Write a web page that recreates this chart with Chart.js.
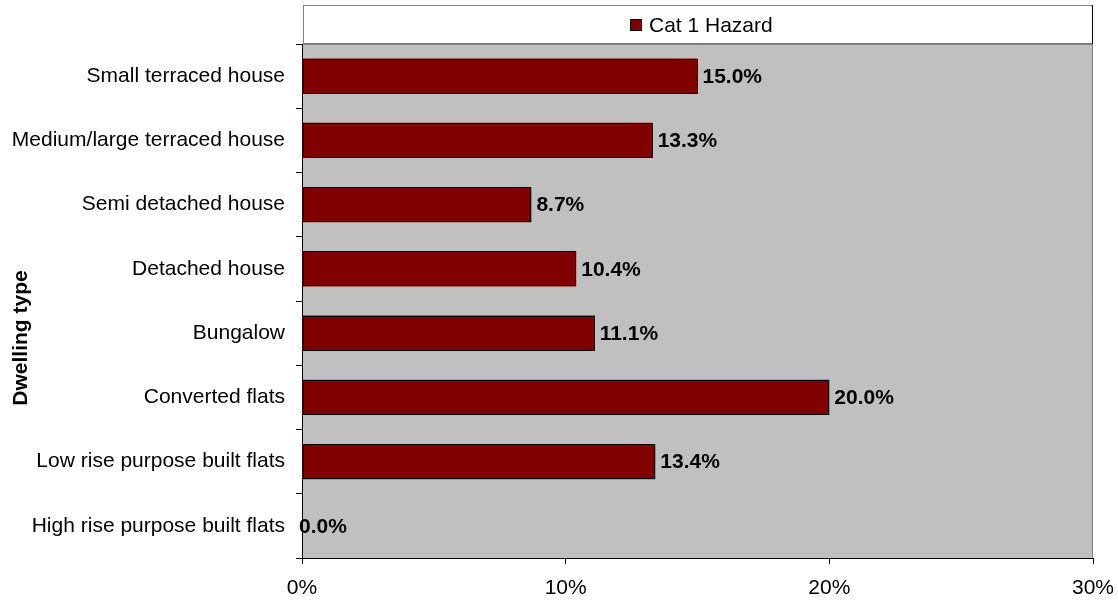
<!DOCTYPE html>
<html>
<head>
<meta charset="utf-8">
<script src="https://cdn.jsdelivr.net/npm/chart.js@4/dist/chart.umd.min.js"></script>
<style>
  html, body { margin: 0; padding: 0; background: #fff; }
  #wrap { width: 1118px; height: 602px; }
</style>
</head>
<body>
<div id="wrap"><canvas id="barChart" width="1118" height="602"></canvas></div>
<script>
// dwelling types, top to bottom
const dwellingTypes = [
    'Small terraced house',
    'Medium/large terraced house',
    'Semi detached house',
    'Detached house',
    'Bungalow',
    'Converted flats',
    'Low rise purpose built flats',
    'High rise purpose built flats'
];
// share of dwellings with a category 1 hazard (%)
const cat1Hazard = [15.0, 13.3, 8.7, 10.4, 11.1, 20.0, 13.4, 0.0];
const seriesName = 'Cat 1 Hazard';
const axisTitle = 'Dwelling type';
const xTicks = [0, 10, 20, 30];

const FONT = '"Liberation Sans", Arial, sans-serif';
const FSIZE = 21;
const barColor = '#800000';

// grey plot background + frame
const plotBg = {
    id: 'plotBg',
    beforeDraw(chart) {
        const a = chart.chartArea, c = chart.ctx;
        c.save();
        c.fillStyle = '#c0c0c0';
        c.fillRect(a.left, a.top, a.right - a.left, a.bottom - a.top);
        c.strokeStyle = '#808080';
        c.lineWidth = 1;
        c.beginPath();
        c.moveTo(a.left, a.top + 0.5);
        c.lineTo(a.right - 0.5, a.top + 0.5);
        c.lineTo(a.right - 0.5, a.bottom);
        c.stroke();
        c.restore();
    }
};

// legend box across the top of the plot, plus the rotated axis title
const legendBox = {
    id: 'legendBox',
    afterDraw(chart) {
        const a = chart.chartArea, c = chart.ctx;
        const top = 5, bottom = a.top;
        c.save();
        c.fillStyle = '#fff';
        c.fillRect(a.left + 1, top, a.right - a.left - 1, bottom - top);
        c.strokeStyle = '#808080';
        c.lineWidth = 1;
        c.strokeRect(a.left + 1.5, top + 0.5, a.right - a.left - 2, bottom - top - 1);
        c.strokeStyle = '#000';
        c.beginPath();
        c.moveTo(a.right - 0.5, top);
        c.lineTo(a.right - 0.5, bottom);
        c.stroke();

        c.font = FSIZE + 'px ' + FONT;
        const tw = c.measureText(seriesName).width;
        const box = 12, gap = 7;
        const total = box + gap + tw;
        const x0 = Math.round((a.left + a.right) / 2 - total / 2 + 4);
        const cy = Math.round((top + bottom) / 2);
        c.fillStyle = barColor;
        c.fillRect(x0, cy - box / 2, box, box);
        c.strokeStyle = '#000';
        c.strokeRect(x0 + 0.5, cy - box / 2 + 0.5, box - 1, box - 1);
        c.fillStyle = '#000';
        c.textBaseline = 'middle';
        c.fillText(seriesName, x0 + box + gap, cy + 1);

        // y axis title, sits a bit below the middle of the plot
        c.font = 'bold ' + FSIZE + 'px ' + FONT;
        c.translate(21, 338);
        c.rotate(-Math.PI / 2);
        c.textAlign = 'center';
        c.fillText(axisTitle, 0, 0);
        c.restore();
    }
};

// crisp black outline round each bar, then the value label at its end
const valueLabels = {
    id: 'valueLabels',
    afterDatasetsDraw(chart) {
        const c = chart.ctx;
        const meta = chart.getDatasetMeta(0);
        c.save();
        c.strokeStyle = '#000';
        c.lineWidth = 1;
        meta.data.forEach(function(bar, i) {
            if (chart.data.datasets[0].data[i] <= 0) return;
            const x1 = Math.round(bar.base), x2 = Math.round(bar.x);
            const y1 = Math.round(bar.y - bar.height / 2), y2 = Math.round(bar.y + bar.height / 2);
            c.strokeRect(x1 + 0.5, y1 + 0.5, x2 - x1 - 1, y2 - y1 - 1);
        });
        c.font = 'bold ' + FSIZE + 'px ' + FONT;
        c.fillStyle = '#000';
        c.textBaseline = 'middle';
        meta.data.forEach(function(bar, i) {
            const v = chart.data.datasets[0].data[i];
            const dx = v > 0 ? 5 : -3;
            c.fillText(v.toFixed(1) + '%', bar.x + dx, bar.y + 1);
        });
        c.restore();
    }
};

const ctx = document.getElementById('barChart').getContext('2d');
const chart = new Chart(ctx, {
    type: 'bar',
    data: {
        labels: dwellingTypes,
        datasets: [{
            label: seriesName,
            data: cat1Hazard,
            backgroundColor: barColor,
            borderWidth: 0,
            categoryPercentage: 0.545,
            barPercentage: 1
        }]
    },
    options: {
        indexAxis: 'y',
        responsive: false,
        animation: false,
        layout: { padding: { top: 44, right: 25, bottom: 0, left: 0 } },
        plugins: {
            legend: { display: false },
            tooltip: { enabled: false }
        },
        scales: {
            x: {
                min: 0,
                max: 30,
                afterBuildTicks(scale) {
                    scale.ticks = xTicks.map(v => ({ value: v }));
                },
                afterFit(scale) {
                    scale.height = 44;
                    // "30%" may hang past the plot, don't shrink for it
                    scale.paddingLeft = 0;
                    scale.paddingRight = 0;
                },
                grid: {
                    drawOnChartArea: false,
                    drawTicks: true,
                    tickLength: 6,
                    color: '#000'
                },
                border: { color: '#000', width: 1 },
                ticks: {
                    color: '#000',
                    padding: 12,
                    maxRotation: 0,
                    font: { family: FONT, size: FSIZE },
                    callback: v => v + '%'
                }
            },
            y: {
                offset: true,
                afterFit(scale) { scale.width = 302; },
                grid: {
                    offset: true,
                    drawOnChartArea: false,
                    drawTicks: true,
                    tickLength: 6,
                    color: '#000'
                },
                border: { color: '#000', width: 1 },
                ticks: {
                    color: '#000',
                    padding: 11,
                    font: { family: FONT, size: FSIZE }
                }
            }
        }
    },
    plugins: [plotBg, legendBox, valueLabels]
});
</script>
</body>
</html>
